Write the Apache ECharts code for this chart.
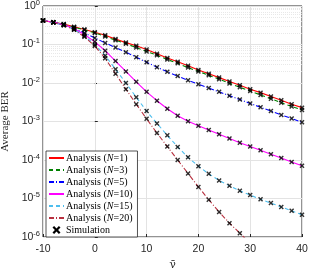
<!DOCTYPE html>
<html><head><meta charset="utf-8">
<script src="https://cdn.jsdelivr.net/npm/echarts@6/dist/echarts.min.js"></script>
<style>html,body{margin:0;padding:0;background:#fff}#c{width:334px;height:268px}</style>
</head><body><div id="c"></div>
<script>
// SNR axis (dB)
var snr = [-10,-8,-6,-4,-2,0,2,4,6,8,10,12,14,16,18,20,22,24,26,28,30,32,34,36,38,40];
var nLabels = ['1','3','5','10','15','20'];
var xTicks = [-10,0,10,20,30,40];
// Average BER
var berN1 = [0.417,0.380,0.339,0.288,0.245,0.209,0.174,0.138,0.112,0.0933,0.0741,0.0575,0.0447,0.0355,0.0282,0.0219,0.0174,0.0138,0.0110,0.00871,0.00692,0.00562,0.00447,0.00355,0.00282,0.00229];
var berN3 = [0.417,0.380,0.331,0.282,0.240,0.200,0.162,0.129,0.105,0.0832,0.0661,0.0525,0.0407,0.0324,0.0251,0.0200,0.0158,0.0126,0.00977,0.00776,0.00617,0.00490,0.00389,0.00309,0.00245,0.00200];
var berN5 = [0.417,0.380,0.324,0.263,0.200,0.148,0.110,0.0832,0.0631,0.0468,0.0347,0.0257,0.0195,0.0151,0.0117,0.00933,0.00741,0.00589,0.00468,0.00372,0.00295,0.00234,0.00186,0.00148,0.00120,0.000955];
var berN10 = [0.417,0.380,0.324,0.257,0.182,0.117,0.0692,0.0372,0.0200,0.0107,0.00589,0.00347,0.00214,0.00141,0.00102,7.76e-4,6.03e-4,4.68e-4,3.63e-4,2.82e-4,2.24e-4,1.78e-4,1.41e-4,1.12e-4,8.91e-5,7.08e-5];
var berN15 = [0.417,0.372,0.316,0.245,0.166,0.100,0.0513,0.0229,0.0100,0.00427,0.00186,8.91e-4,4.37e-4,2.19e-4,1.17e-4,6.92e-5,4.37e-5,2.95e-5,2.14e-5,1.58e-5,1.23e-5,9.55e-6,7.59e-6,6.03e-6,4.79e-6,3.80e-6];
var berN20 = [0.417,0.372,0.316,0.240,0.158,0.0912,0.0437,0.0174,0.00692,0.00282,0.00117,5.01e-4,2.24e-4,1.00e-4,4.47e-5,2.00e-5,9.33e-6,4.47e-6,2.29e-6,1.26e-6,6.76e-7];

var allBer = [berN1,berN3,berN5,berN10,berN15,berN20];
var colors = ['#ff0000','#008000','#0000ff','#ff00ff','#4dbeee','#b8303f'];
var dashes = ['solid',[4,3],[5,2,1,2],'solid',[4,3],[5,2,1,2]];
var yMin = 1e-6;

function pairs(arr, clipLow){
  var out=[];
  for (var i=0;i<arr.length;i++){
    if (clipLow && arr[i] < yMin) continue;
    out.push([snr[i], arr[i]]);
  }
  return out;
}

// minor log grid positions
var minorLines=[];
for (var d=-6; d<0; d++) for (var k=2;k<=9;k++) minorLines.push({yAxis: k*Math.pow(10,d)});

var xMark = 'path://M0,2 L2,0 L5,3 L8,0 L10,2 L7,5 L10,8 L8,10 L5,7 L2,10 L0,8 L3,5 Z';

var series=[];
var legendData=[];
allBer.forEach(function(arr, i){
  var name = 'Analysis (N=' + nLabels[i] + ')';
  legendData.push({name:name});
  var s = {
    name: name, type:'line', data: pairs(arr,false), symbol:'none', smooth:false,
    lineStyle:{color:colors[i], width:1.1, type:dashes[i]}, itemStyle:{color:colors[i]},
    z: 3, clip:true, silent:true
  };
  if (i===0){
    s.markLine = {silent:true, symbol:'none', label:{show:false}, animation:false,
      lineStyle:{color:'#e3e3e3', type:[1,1], width:0.8}, data: minorLines, z:1};
  }
  series.push(s);
});
allBer.forEach(function(arr){
  series.push({name:'Simulation', type:'scatter', data: pairs(arr,true), symbol: xMark, symbolSize:5,
    itemStyle:{color:'#000'}, z:5, silent:true});
});
legendData.push({name:'Simulation', itemStyle:{opacity:1, color:'#000'}});

var sans = '"Liberation Sans", Arial, sans-serif';
var serif = '"Liberation Serif", "DejaVu Serif", serif';

var chart = echarts.init(document.getElementById('c'), null, {renderer:'canvas'});
chart.setOption({
  animation:false,
  backgroundColor:'#fff',
  grid:{left:43, right:32, top:6, bottom:31, show:true, borderColor:'#262626', borderWidth:1, backgroundColor:'transparent',
    containLabel:false, outerBoundsMode:'none'},
  xAxis:{type:'value', min:-10, max:40, interval:10,
    axisLine:{show:false}, axisTick:{inside:true, length:3, lineStyle:{color:'#262626'}},
    axisLabel:{color:'#262626', fontSize:10.5, fontFamily:sans, margin:7,
      formatter:function(v){ return xTicks.indexOf(v)>=0 ? String(v) : ''; }},
    splitLine:{show:true, lineStyle:{color:'#e3e3e3', width:1}},
    name:'γ\u0304', nameLocation:'middle', nameGap:17,
    nameTextStyle:{fontFamily:'"DejaVu Serif", serif', fontStyle:'normal', fontSize:11, color:'#262626'}
  },
  yAxis:{type:'log', logBase:10, min:1e-6, max:1, interval:1,
    axisLine:{show:false}, axisTick:{inside:true, length:3, lineStyle:{color:'#262626'}},
    axisLabel:{color:'#262626', fontFamily:sans, margin:3,
      formatter:function(v){ var e=Math.round(Math.log10(v)); return '{b|10}{s|'+e+'}'; },
      rich:{b:{fontSize:10.5, fontFamily:sans, color:'#262626'}, s:{fontSize:7.5, fontFamily:sans, color:'#262626', padding:[0,0,7,0]}}},
    splitLine:{show:true, lineStyle:{color:'#e3e3e3', width:1}},
    name:'Average BER', nameLocation:'middle', nameGap:29,
    nameTextStyle:{fontFamily:serif, fontSize:11, color:'#262626'}
  },
  legend:{left:46, top:151, orient:'vertical', data:legendData, backgroundColor:'#fff',
    borderColor:'#262626', borderWidth:0.8, padding:[2,5,2,2], itemGap:2,
    itemWidth:15, itemHeight:8, itemStyle:{opacity:0},
    textStyle:{fontFamily:serif, fontSize:10, color:'#000', lineHeight:10, padding:[0,0,0,-3],
      rich:{a:{fontFamily:serif, fontSize:10, color:'#000'}, i:{fontFamily:serif, fontSize:10, fontStyle:'italic', color:'#000'}}},
    formatter:function(n){
      var m = n.match(/^Analysis \(N=(\d+)\)$/);
      if (m) return '{a|Analysis (}{i|N}{a|='+m[1]+')}';
      return '{a|'+n+'}';
    }
  },
  series:series
});
</script></body></html>
